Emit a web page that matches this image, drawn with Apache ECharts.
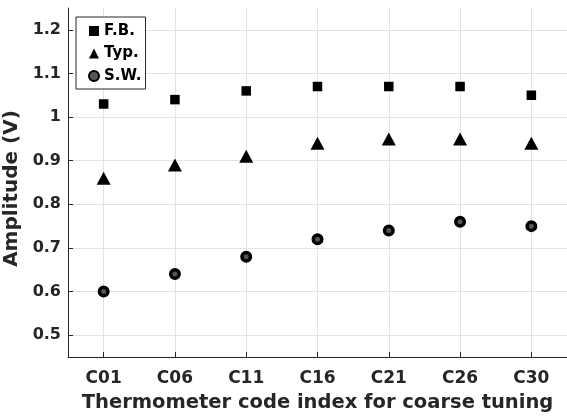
<!DOCTYPE html>
<html>
<head>
<meta charset="utf-8">
<script src="https://cdn.jsdelivr.net/npm/echarts@6/dist/echarts.min.js"></script>
<style>
  html, body { margin: 0; padding: 0; background: #fff; }
  #chart { width: 567px; height: 416px; }
</style>
</head>
<body>
<div id="chart"></div>
<script>
// thermometer code categories
var categories = ["C01", "C06", "C11", "C16", "C21", "C26", "C30"];
var fbValues = [1.03, 1.04, 1.06, 1.07, 1.07, 1.07, 1.05];
var typValues = [0.86, 0.89, 0.91, 0.94, 0.95, 0.95, 0.94];
var swValues = [0.60, 0.64, 0.68, 0.72, 0.74, 0.76, 0.75];
var yTicks = [0.5, 0.6, 0.7, 0.8, 0.9, 1, 1.1, 1.2];
var xTicks = [1, 2, 3, 4, 5, 6, 7];

var FONT = "DejaVu Sans";
var INK = "#262626";

function toPoints(list) {
  return list.map(function (v, i) { return [i + 1, v]; });
}

var chart = echarts.init(document.getElementById("chart"));
chart.setOption({
  animation: false,
  grid: { left: 68, right: 0, top: 8, bottom: 59, outerBoundsMode: "none", containLabel: false },
  legend: {
    orient: "vertical",
    left: 76,
    top: 17,
    padding: [6, 4, 5, 12],
    itemWidth: 10,
    itemHeight: 10,
    itemGap: 6.5,
    itemTextGap: 9,
    borderColor: INK,
    borderWidth: 1,
    backgroundColor: "#fff",
    textStyle: { fontFamily: FONT, fontWeight: "bold", fontSize: 15, color: "#000", lineHeight: 16 },
    data: ["F.B.", "Typ.", "S.W."]
  },
  xAxis: {
    type: "value",
    min: 0.5,
    max: 7.5,
    name: "Thermometer code index for coarse tuning",
    nameLocation: "middle",
    nameGap: 36,
    nameTextStyle: { fontFamily: FONT, fontWeight: "bold", fontSize: 19.5, color: INK },
    axisLine: { show: true, lineStyle: { color: INK, width: 1 } },
    axisTick: { show: true, inside: true, length: 5, customValues: xTicks, lineStyle: { color: INK } },
    axisLabel: {
      customValues: xTicks,
      margin: 13,
      fontFamily: FONT, fontWeight: "bold", fontSize: 17, color: INK,
      formatter: function (v) { return categories[Math.round(v) - 1]; }
    },
    splitLine: { show: true, lineStyle: { color: "#e3e3e3", width: 1 } }
  },
  yAxis: {
    type: "value",
    min: 0.45,
    max: 1.25,
    name: "Amplitude (V)",
    nameLocation: "middle",
    nameGap: 30,
    nameTextStyle: { fontFamily: FONT, fontWeight: "bold", fontSize: 20, color: INK, padding: [0, 12, 0, 0] },
    axisLine: { show: true, lineStyle: { color: INK, width: 1 } },
    axisTick: { show: true, inside: true, length: 5, customValues: yTicks, lineStyle: { color: INK } },
    axisLabel: {
      customValues: yTicks,
      margin: 7,
      fontFamily: FONT, fontWeight: "bold", fontSize: 16, color: INK,
      formatter: function (v) { return String(Math.round(v * 10) / 10); }
    },
    splitLine: { show: true, lineStyle: { color: "#e3e3e3", width: 1 } }
  },
  series: [
    {
      name: "F.B.",
      type: "scatter",
      symbol: "rect",
      symbolSize: 9.5,
      itemStyle: { color: "#000", opacity: 1 },
      data: toPoints(fbValues)
    },
    {
      name: "Typ.",
      type: "scatter",
      symbol: "triangle",
      symbolSize: [14, 13],
      itemStyle: { color: "#000", opacity: 1 },
      data: toPoints(typValues)
    },
    {
      name: "S.W.",
      type: "scatter",
      symbol: "circle",
      symbolSize: 8.5,
      itemStyle: { color: "#555", borderColor: "#000", borderWidth: 3.5, opacity: 1 },
      data: toPoints(swValues)
    }
  ]
});
</script>
</body>
</html>
